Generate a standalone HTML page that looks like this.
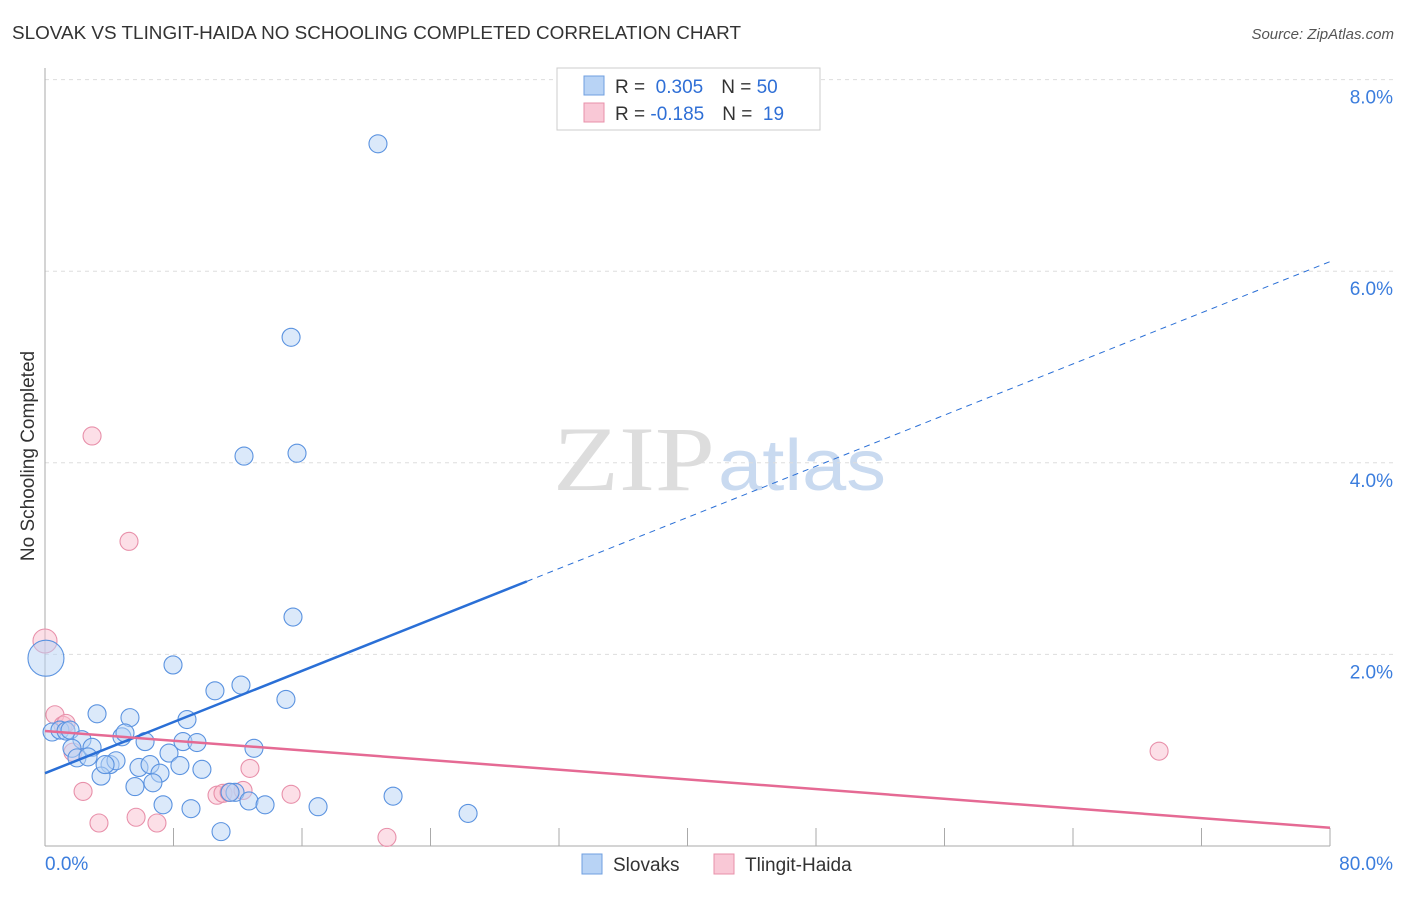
<!DOCTYPE html>
<html><head><meta charset="utf-8"><style>
body{margin:0;background:#fff;font-family:"Liberation Sans",sans-serif;}
svg text{font-family:"Liberation Sans",sans-serif;}
</style></head><body>
<svg id="chart" width="1406" height="892">
<text x="12" y="39" font-size="18" fill="#333" textLength="729" lengthAdjust="spacingAndGlyphs">SLOVAK VS TLINGIT-HAIDA NO SCHOOLING COMPLETED CORRELATION CHART</text>
<text x="1394" y="39" font-size="15" fill="#555" text-anchor="end" font-style="italic">Source: ZipAtlas.com</text>
<text x="553" y="490" font-size="92" fill="#ddd" style="font-family:'Liberation Serif',serif" textLength="162" lengthAdjust="spacingAndGlyphs">ZIP</text>
<text x="718" y="490" font-size="72" fill="#c9daf0" textLength="168" lengthAdjust="spacingAndGlyphs">atlas</text>
<text transform="translate(34,456) rotate(-90)" font-size="19" fill="#333" text-anchor="middle">No Schooling Completed</text>
<g id="grid"></g><g id="marks"></g>
<g>
<rect x="557" y="68" width="263" height="62" fill="#fff" stroke="#ccc"/>
<rect x="584" y="76" width="20" height="19" fill="#b8d3f5" stroke="#6f9fe0"/>
<rect x="584" y="103" width="20" height="19" fill="#f9c8d6" stroke="#e890aa"/>
<text x="615" y="93" font-size="19" fill="#333">R = <tspan fill="#2f6fd6">&#160;0.305</tspan><tspan dx="18">N = </tspan><tspan fill="#2f6fd6">50</tspan></text>
<text x="615" y="120" font-size="19" fill="#333">R = <tspan fill="#2f6fd6">-0.185</tspan><tspan dx="18">N = </tspan><tspan fill="#2f6fd6">&#160;19</tspan></text>
</g>
<g>
<rect x="582" y="854" width="20" height="20" fill="#b8d3f5" stroke="#6f9fe0"/>
<text x="613" y="871" font-size="19" fill="#333">Slovaks</text>
<rect x="714" y="854" width="20" height="20" fill="#f9c8d6" stroke="#e890aa"/>
<text x="745" y="871" font-size="19" fill="#333">Tlingit-Haida</text>
</g>
</svg>
<script>
const yTicks=[2,4,6,8];
const yTickLabels=["2.0%","4.0%","6.0%","8.0%"];
const xTickLabels=["0.0%","80.0%"];
const blueX=[20.73,15.32,12.39,15.69,15.44,7.97,0.06,10.58,12.20,15.00,3.24,5.29,8.84,0.44,0.93,1.31,1.56,2.30,2.93,4.79,4.98,6.23,8.59,9.46,13.01,1.68,1.99,2.68,4.05,4.42,5.85,6.54,7.72,8.40,9.77,3.49,7.16,5.60,6.72,21.67,7.35,9.09,11.83,12.70,13.70,17.00,26.34,10.96,11.52,3.74];
const blueY=[7.33,5.31,4.07,4.10,2.39,1.89,1.96,1.62,1.68,1.53,1.38,1.34,1.32,1.19,1.21,1.20,1.21,1.11,1.03,1.14,1.18,1.09,1.09,1.08,1.02,1.02,0.92,0.93,0.85,0.89,0.82,0.85,0.97,0.84,0.80,0.73,0.76,0.62,0.66,0.52,0.43,0.39,0.56,0.47,0.43,0.41,0.34,0.15,0.56,0.85];
const pinkX=[0,2.93,5.23,0.62,1.12,1.31,1.74,2.37,3.36,5.67,6.97,10.71,11.08,11.46,12.33,12.76,15.32,21.29,69.36];
const pinkY=[2.14,4.28,3.18,1.37,1.26,1.28,0.98,0.57,0.24,0.30,0.24,0.53,0.55,0.56,0.58,0.81,0.54,0.09,0.99];
const blueTrend=[0.76,6.10];
const pinkTrend=[1.20,0.19];
const blueSolidEnd=30.0;
const NS='http://www.w3.org/2000/svg';
const sx=v=>45+v/80*1285;
const sy=v=>846-v*95.8;
function mk(tag,attrs,parent){const e=document.createElementNS(NS,tag);for(const k in attrs)e.setAttribute(k,attrs[k]);parent.appendChild(e);return e;}
const grid=document.getElementById('grid'),marks=document.getElementById('marks');
yTicks.forEach((t,i)=>{
 const l=mk('line',{x1:45,x2:1394,y1:sy(t),y2:sy(t),stroke:'#ddd','stroke-dasharray':'4,4'},grid);
 
 
 const tx=mk('text',{x:1393,y:sy(t)+24,'font-size':19,fill:'#3b7ddd','text-anchor':'end'},grid);
 tx.textContent=yTickLabels[i];
 
 
});
mk('line',{x1:45,x2:45,y1:68,y2:846,stroke:'#aaa'},grid);
mk('line',{x1:45,x2:1330,y1:846,y2:846,stroke:'#aaa'},grid);
for(let i=0;i<=10;i++){const t=mk('line',{x1:sx(i*8),x2:sx(i*8),y1:828,y2:846,stroke:'#aaa'},grid);
 
 }
[[0,'start',45],[80,'end',1393]].forEach((d,i)=>{const t=mk('text',{x:d[2],y:870,'font-size':19,fill:'#3b7ddd','text-anchor':d[1]},grid);t.textContent=xTickLabels[i];
 
 });
function dots(X,Y,fill,stroke,name){X.forEach((x,i)=>{const r=(i===0&&name==='pink-point')?12:((x<0.1&&name==='blue-point')?18:9);
 const c=mk('circle',{cx:sx(x),cy:sy(Y[i]),r:r,fill:fill,'fill-opacity':0.5,stroke:stroke,'stroke-width':1.1},marks);
 
 });}
dots(pinkX,pinkY,'#f9c0d0','#e890aa','pink-point');
dots(blueX,blueY,'#b8d3f5','#5b93e0','blue-point');
const bAt=x=>blueTrend[0]+(blueTrend[1]-blueTrend[0])*x/80;
let l1=mk('line',{x1:sx(0),y1:sy(bAt(0)),x2:sx(blueSolidEnd),y2:sy(bAt(blueSolidEnd)),stroke:'#2a6fd6','stroke-width':2.5},marks);


let l2=mk('line',{x1:sx(blueSolidEnd),y1:sy(bAt(blueSolidEnd)),x2:sx(80),y2:sy(bAt(80)),stroke:'#2a6fd6','stroke-width':1,'stroke-dasharray':'6,5'},marks);


let l3=mk('line',{x1:sx(0),y1:sy(pinkTrend[0]),x2:sx(80),y2:sy(pinkTrend[1]),stroke:'#e56a94','stroke-width':2.5},marks);


</script>
</body></html>
